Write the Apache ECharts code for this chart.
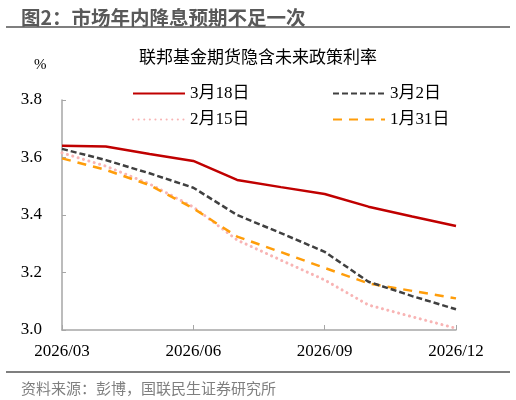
<!DOCTYPE html>
<html>
<head>
<meta charset="utf-8">
<script src="https://cdn.jsdelivr.net/npm/echarts@6/dist/echarts.min.js"></script>
<style>
  html, body { margin: 0; padding: 0; background: #fff; }
  #main { width: 516px; height: 400px; }
</style>
</head>
<body>
<div id="main"></div>
<script>
// 月份（横轴）
var months = ['2026/03', '2026/04', '2026/05', '2026/06', '2026/07',
              '2026/08', '2026/09', '2026/10', '2026/11', '2026/12'];
// 各日期的期货隐含利率曲线
var mar18 = [3.641, 3.638, 3.612, 3.588, 3.522, 3.497, 3.473, 3.429, 3.395, 3.362];
var mar02 = [3.630, 3.591, 3.545, 3.495, 3.400, 3.337, 3.272, 3.168, 3.118, 3.072];
var feb15 = [3.616, 3.570, 3.508, 3.428, 3.313, 3.243, 3.174, 3.087, 3.046, 3.006];
var jan31 = [3.597, 3.557, 3.504, 3.423, 3.325, 3.271, 3.216, 3.162, 3.136, 3.110];
var yTicks = [3.0, 3.2, 3.4, 3.6, 3.8];

var serif = '"Liberation Serif", "Noto Sans CJK SC", serif';
var cjk = '"Noto Sans CJK SC", sans-serif';

var myChart = echarts.init(document.getElementById('main'));

// 每个图例单独定位，只画线不画点
function legendAt(name, left, top) {
    return {
        data: [name],
        left: left,
        top: top,
        itemWidth: 52,
        itemHeight: 14,
        itemGap: 0,
        itemStyle: { opacity: 0 },
        textStyle: { fontFamily: serif, fontSize: 17, color: '#000' }
    };
}

myChart.setOption({
    animation: false,
    title: [
        {
            text: '图2：市场年内降息预期不足一次',
            left: 16, top: 3,
            textStyle: { fontFamily: cjk, fontSize: 19.5, fontWeight: 'bold', color: '#595959' }
        },
        {
            text: '联邦基金期货隐含未来政策利率',
            left: 'center', top: 43,
            textStyle: { fontFamily: cjk, fontSize: 17, fontWeight: 'normal', color: '#000' }
        },
        {
            text: '资料来源：彭博，国联民生证券研究所',
            left: 16, top: 376,
            textStyle: { fontFamily: cjk, fontSize: 15, fontWeight: 'normal', color: '#7f7f7f' }
        }
    ],
    graphic: [
        { type: 'line', shape: { x1: 6, y1: 27, x2: 510, y2: 27 }, style: { stroke: '#7f7f7f', lineWidth: 2 } },
        { type: 'line', shape: { x1: 6, y1: 372, x2: 510, y2: 372 }, style: { stroke: '#7f7f7f', lineWidth: 2 } },
        { type: 'text', left: 34, top: 58, style: { text: '%', font: '15px "Liberation Serif"', fill: '#000' } }
    ],
    legend: [
        legendAt('3月18日', 127, 80),
        legendAt('3月2日', 327, 80),
        legendAt('2月15日', 127, 106),
        legendAt('1月31日', 327, 106)
    ],
    grid: { left: 62, right: 60, top: 100, bottom: 70 },
    xAxis: {
        type: 'category',
        data: months,
        boundaryGap: false,
        axisLine: { lineStyle: { color: '#a6a6a6', width: 1.5 } },
        axisTick: { inside: true, length: 5, interval: 2, lineStyle: { color: '#a6a6a6' } },
        axisLabel: { interval: 2, margin: 13, fontFamily: serif, fontSize: 17, color: '#000' }
    },
    yAxis: {
        type: 'value',
        min: yTicks[0],
        max: yTicks[yTicks.length - 1],
        interval: 0.2,
        axisLine: { show: true, lineStyle: { color: '#a6a6a6', width: 1.5 } },
        axisTick: { show: true, inside: true, length: 4, lineStyle: { color: '#a6a6a6' } },
        splitLine: { show: false },
        axisLabel: {
            margin: 20, fontFamily: serif, fontSize: 17, color: '#000',
            formatter: function (v) { return v.toFixed(1); }
        }
    },
    series: [
        {
            name: '3月18日', type: 'line', data: mar18, symbol: 'none', z: 5,
            lineStyle: { color: '#c00000', width: 2.5 },
            itemStyle: { color: '#c00000' }
        },
        {
            name: '3月2日', type: 'line', data: mar02, symbol: 'none', z: 4,
            lineStyle: { color: '#404040', width: 2.5, type: [6, 3] },
            itemStyle: { color: '#404040' }
        },
        {
            name: '2月15日', type: 'line', data: feb15, symbol: 'none', z: 2,
            lineStyle: { color: '#f8b4b4', width: 3, type: [0.1, 5.5], cap: 'round' },
            itemStyle: { color: '#f8b4b4' }
        },
        {
            name: '1月31日', type: 'line', data: jan31, symbol: 'none', z: 3,
            lineStyle: { color: '#ff9d0a', width: 2.5, type: [9, 7] },
            itemStyle: { color: '#ff9d0a' }
        }
    ]
});
</script>
</body>
</html>
